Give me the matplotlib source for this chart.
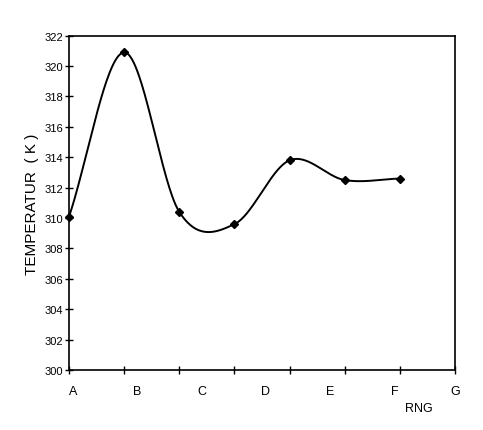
import numpy as np
import matplotlib
matplotlib.use("Agg")
import matplotlib.pyplot as plt

plt.rcParams['font.family'] = ['Liberation Sans', 'DejaVu Sans']

rings = ['A', 'B', 'C', 'D', 'E', 'F', 'G']
point_x = [0, 1, 2, 3, 4, 5, 6]
temperature = [310.1, 320.9, 310.4, 309.6, 313.8, 312.5, 312.6]
y_ticks = [300, 302, 304, 306, 308, 310, 312, 314, 316, 318, 320, 322]


def catmull_rom(x, y, per=60):
    x = np.asarray(x, float)
    y = np.asarray(y, float)
    k = len(x)
    m = np.empty(k)
    m[0] = (y[1] - y[0]) / (x[1] - x[0])
    m[-1] = (y[-1] - y[-2]) / (x[-1] - x[-2])
    m[1:-1] = (y[2:] - y[:-2]) / (x[2:] - x[:-2])
    xs_all, ys_all = [], []
    for i in range(k - 1):
        h = x[i + 1] - x[i]
        t = np.linspace(0, 1, per, endpoint=(i == k - 2))
        h00 = 2 * t**3 - 3 * t**2 + 1
        h10 = t**3 - 2 * t**2 + t
        h01 = -2 * t**3 + 3 * t**2
        h11 = t**3 - t**2
        xs_all.append(x[i] + t * h)
        ys_all.append(h00 * y[i] + h10 * h * m[i] + h01 * y[i + 1] + h11 * h * m[i + 1])
    return np.concatenate(xs_all), np.concatenate(ys_all)


fig = plt.figure(figsize=(4.83, 4.31), dpi=100)
ax = fig.add_axes([0.143, 0.139, 0.799, 0.776])

xs, ys = catmull_rom(point_x, temperature)
ax.plot(xs, ys, color='black', lw=1.4, clip_on=False)
ax.plot(point_x, temperature, linestyle='none', marker='D', ms=4.5,
        color='black', clip_on=False)

ax.set_xlim(0, 7)
ax.set_ylim(300, 322)
ax.set_yticks(y_ticks)
ax.set_yticklabels([str(v) for v in y_ticks], fontsize=8)
ax.set_xticks(range(0, 8))
ax.set_xticklabels([])
ax.tick_params(axis='both', direction='inout', length=6, width=1, colors='black')
ax.tick_params(axis='y', pad=1)

for i, lab in enumerate(rings):
    ax.text(i * 7 / 6 + 0.07 * (i < 6), -0.045, lab, transform=ax.get_xaxis_transform(),
            ha='center', va='top', fontsize=9)

ax.text(0.905, -0.096, 'RNG', transform=ax.transAxes, ha='center', va='top', fontsize=9)
ax.set_ylabel('TEMPERATUR  ( K )', fontsize=11, labelpad=4)

for s in ax.spines.values():
    s.set_linewidth(1.2)
    s.set_color('black')

fig.savefig('out.png', dpi=100)
